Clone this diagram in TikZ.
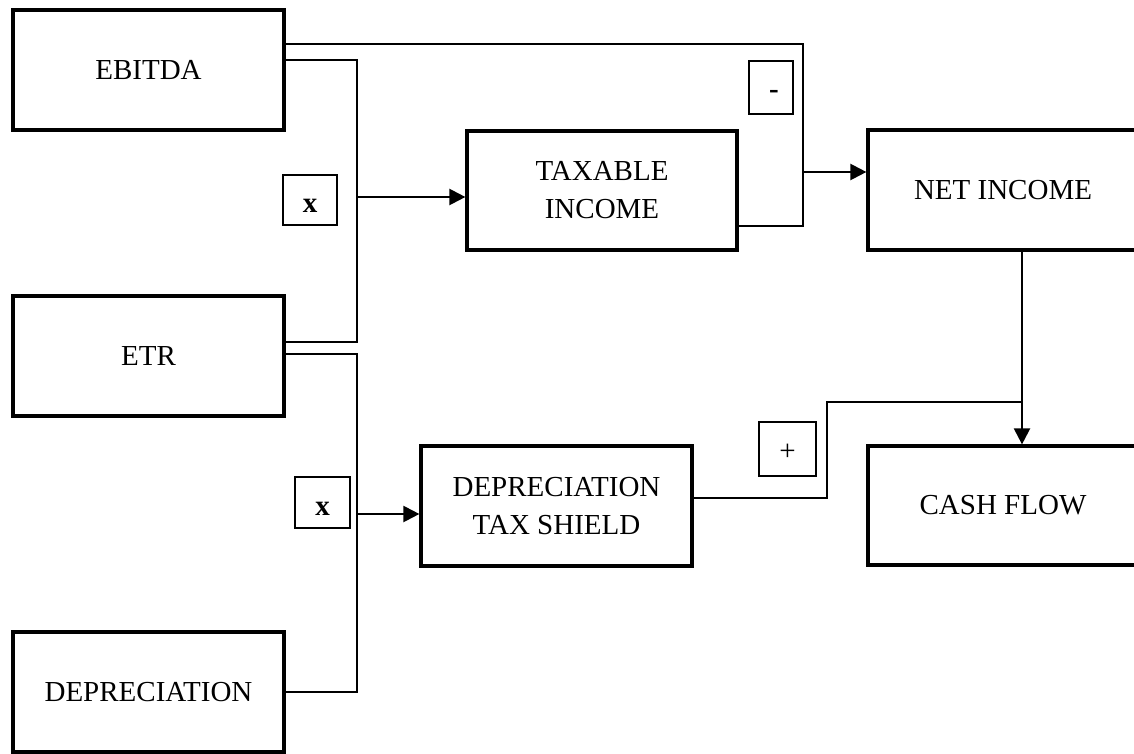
\documentclass[tikz,border=0pt]{standalone}
\usepackage{fontspec}
\setmainfont{Liberation Serif}
\usetikzlibrary{arrows.meta}
\tikzset{
  bigbox/.style={draw, line width=1.6pt, rectangle, inner sep=0pt, align=center,
    font=\fontsize{14.5}{19}\selectfont},
  opbox/.style={draw, line width=0.65pt, rectangle, inner sep=0pt,
    font=\fontsize{14.5}{17}\selectfont},
  conn/.style={line width=0.7pt},
  arr/.style={line width=1.1pt, -{Triangle[length=8pt,width=8pt]}}
}
\newcommand{\opsym}[2]{\smash{\raisebox{#1}{#2}}}
\begin{document}
\begin{tikzpicture}[x=0.5pt,y=-0.5pt]
\useasboundingbox (0,0) rectangle (1134,754);
\clip (0,0) rectangle (1134,754);
% main boxes
\node[bigbox, minimum width=135.5pt, minimum height=60pt] (ebitda) at (148.5,70) {EBITDA};
\node[bigbox, minimum width=135.5pt, minimum height=60pt] (etr) at (148.5,356) {ETR};
\node[bigbox, minimum width=135.5pt, minimum height=60pt] (dep) at (148.5,692) {DEPRECIATION};
\node[bigbox, minimum width=135pt, minimum height=59.5pt] (taxinc) at (602,190.5) {TAXABLE\\INCOME};
\node[bigbox, minimum width=135pt, minimum height=60pt] (netinc) at (1003,190) {NET INCOME};
\node[bigbox, minimum width=135.5pt, minimum height=60pt] (taxsh) at (556.5,506) {DEPRECIATION\\TAX SHIELD};
\node[bigbox, minimum width=135pt, minimum height=59.5pt] (cash) at (1003,505.5) {CASH FLOW};
% operator boxes
\node[opbox, minimum width=27pt, minimum height=25pt] (op1) at (310,200) {\opsym{-6.4pt}{\textbf{x}}};
\node[opbox, minimum width=22pt, minimum height=26.5pt] (op2) at (771,87.5) {\hspace{3pt}\opsym{-5.4pt}{\textbf{-}}};
\node[opbox, minimum width=27.5pt, minimum height=25.5pt] (op3) at (322.5,502.5) {\opsym{-6.4pt}{\textbf{x}}};
\node[opbox, minimum width=28.5pt, minimum height=27pt] (op4) at (787.5,449) {\opsym{-5.6pt}{+}};
% junction coordinates
\coordinate (tr) at (803,44);
\coordinate (tiy) at (0,226);
\coordinate (niy) at (0,172);
\coordinate (b1) at (357,60);
\coordinate (b1b) at (357,342);
\coordinate (a1y) at (0,197);
\coordinate (b2) at (357,354);
\coordinate (b2b) at (357,692);
\coordinate (a2y) at (0,514);
\coordinate (tsy) at (0,498);
\coordinate (s1) at (827,498);
\coordinate (s2) at (827,402);
\coordinate (cj) at (1022,402);
\coordinate (cx) at (1022,374);
% connectors
\draw[conn] (ebitda.east |- tr) -- (tr) -- (tr |- tiy) -- (taxinc.east |- tiy);
\draw[arr] (tr |- niy) -- (netinc.west |- niy);
\draw[conn] (ebitda.east |- b1) -- (b1) -- (b1b) -- (etr.east |- b1b);
\draw[arr] (b1 |- a1y) -- (taxinc.west |- a1y);
\draw[conn] (etr.east |- b2) -- (b2) -- (b2b) -- (dep.east |- b2b);
\draw[arr] (b2 |- a2y) -- (taxsh.west |- a2y);
\draw[conn] (taxsh.east |- tsy) -- (s1) -- (s2) -- (cj);
\draw[conn] (netinc.south -| cx) -- (cx);
\draw[arr] (cx) -- (cash.north -| cx);
\end{tikzpicture}
\end{document}
